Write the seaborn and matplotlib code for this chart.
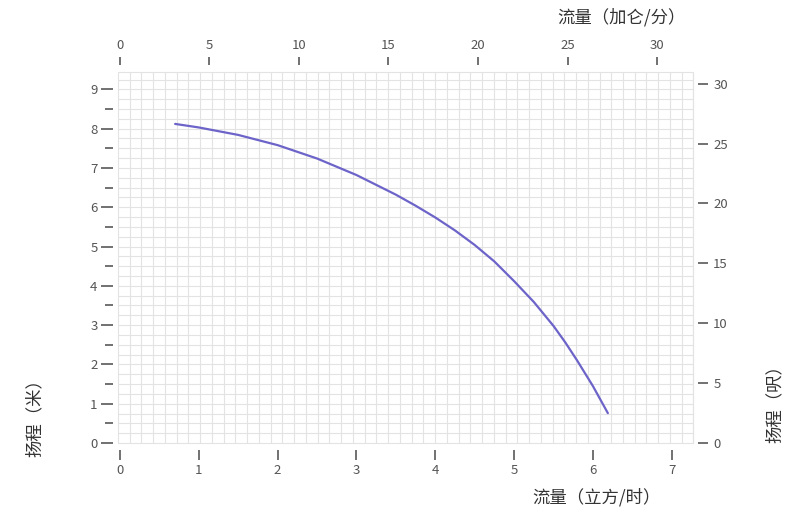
"""
水泵性能曲线：扬程 vs 流量（公制 / 英制双坐标）
"""

import numpy as np
import pandas as pd
import matplotlib
matplotlib.use('Agg')
import matplotlib.pyplot as plt
from matplotlib.ticker import MultipleLocator
import seaborn as sns

# 曲线读数（流量 立方/时，扬程 米）
flow_m3h = [0.70, 1.00, 1.50, 2.00, 2.50, 3.00, 3.50, 3.75, 4.00, 4.25, 4.50,
            4.75, 5.00, 5.25, 5.50, 5.65, 5.80, 6.00, 6.19]
head_m = [8.12, 8.03, 7.84, 7.58, 7.24, 6.82, 6.32, 6.04, 5.74, 5.41, 5.04,
          4.62, 4.12, 3.59, 2.98, 2.56, 2.10, 1.45, 0.76]

bottom_ticks = [0, 1, 2, 3, 4, 5, 6, 7]
left_ticks = [0, 1, 2, 3, 4, 5, 6, 7, 8, 9]
top_ticks = [0, 5, 10, 15, 20, 25, 30]
right_ticks = [0, 5, 10, 15, 20, 25, 30]

GPM_PER_M3H = 4.403   # 加仑/分 每 立方/时
M_PER_FT = 0.3048

df = pd.DataFrame({'流量': flow_m3h, '扬程': head_m})

sns.set_theme(style='ticks')
plt.rcParams['font.family'] = ['Noto Sans CJK SC', 'DejaVu Sans']

fig = plt.figure(figsize=(7.96, 5.19), dpi=100)
ax = fig.add_axes([0.1482, 0.1464, 0.7224, 0.7148])

xlim = (-0.025, 7.27)
ylim = (0, 9.44)
ax.set_xlim(*xlim)
ax.set_ylim(*ylim)

# 背景网格（边框线不裁剪，保证四边完整）
grid_kw = dict(color='#e3e3e3', lw=0.8, zorder=0, clip_on=False)
for gx in np.arange(xlim[0], xlim[1] + 0.01, 0.149):
    ax.axvline(gx, **grid_kw)
for gy in np.arange(0, ylim[1] + 0.01, 0.25):
    ax.axhline(gy, **grid_kw)
ax.axvline(xlim[1], **grid_kw)
ax.axhline(ylim[1], **grid_kw)

sns.lineplot(data=df, x='流量', y='扬程', ax=ax, sort=False, estimator=None,
             color='#6d64c9', lw=1.6, zorder=3)
ax.set_xlabel('')
ax.set_ylabel('')

# 副坐标：加仑/分（上）和 呎（右）
ax_top = ax.twiny()
ax_top.set_xlim(xlim[0] * GPM_PER_M3H, xlim[1] * GPM_PER_M3H)
ax_right = ax.twinx()
ax_right.set_ylim(ylim[0] / M_PER_FT, ylim[1] / M_PER_FT)

for a in (ax, ax_top, ax_right):
    for s in a.spines.values():
        s.set_color('none')

ax.spines['left'].set_position(('outward', 3.6))
ax.spines['bottom'].set_position(('outward', 5))
ax_top.spines['top'].set_position(('outward', 5))
ax_right.spines['right'].set_position(('outward', 3.6))

tick_color = '#4a4a4a'
label_color = '#555555'
lab_size = 9.5

ax.set_xticks(bottom_ticks)
ax.set_yticks(left_ticks)
ax.yaxis.set_minor_locator(MultipleLocator(0.5))
ax.tick_params(axis='x', which='major', length=7, width=1.1, color=tick_color,
               pad=3, labelsize=lab_size, labelcolor=label_color)
ax.tick_params(axis='y', which='major', length=8.6, width=1.1, color=tick_color,
               pad=2.5, labelsize=lab_size, labelcolor=label_color)
ax.tick_params(axis='y', which='minor', length=5.5, width=1.1, color=tick_color,
               left=True)

ax_top.set_xticks(top_ticks)
ax_top.tick_params(axis='x', which='major', top=True, length=5.5, width=1.1,
                   color=tick_color, pad=4, labelsize=lab_size, labelcolor=label_color)
ax_right.set_yticks(right_ticks)
ax_right.tick_params(axis='y', which='major', right=True, length=7, width=1.1,
                     color=tick_color, pad=4, labelsize=lab_size, labelcolor=label_color)

# 轴标题
title_kw = dict(fontsize=12.5, color='#333333')
fig.text(597 / 796, 1 - 497 / 519, '流量（立方/时）', ha='center', va='center', **title_kw)
fig.text(622 / 796, 1 - 17 / 519, '流量（加仑/分）', ha='center', va='center', **title_kw)
fig.text(35 / 796, 1 - 414 / 519, '扬程（米）', ha='center', va='center',
         rotation=90, **title_kw)
fig.text(775 / 796, 1 - 400 / 519, '扬程（呎）', ha='center', va='center',
         rotation=90, **title_kw)

fig.savefig('out.png', dpi=100)
